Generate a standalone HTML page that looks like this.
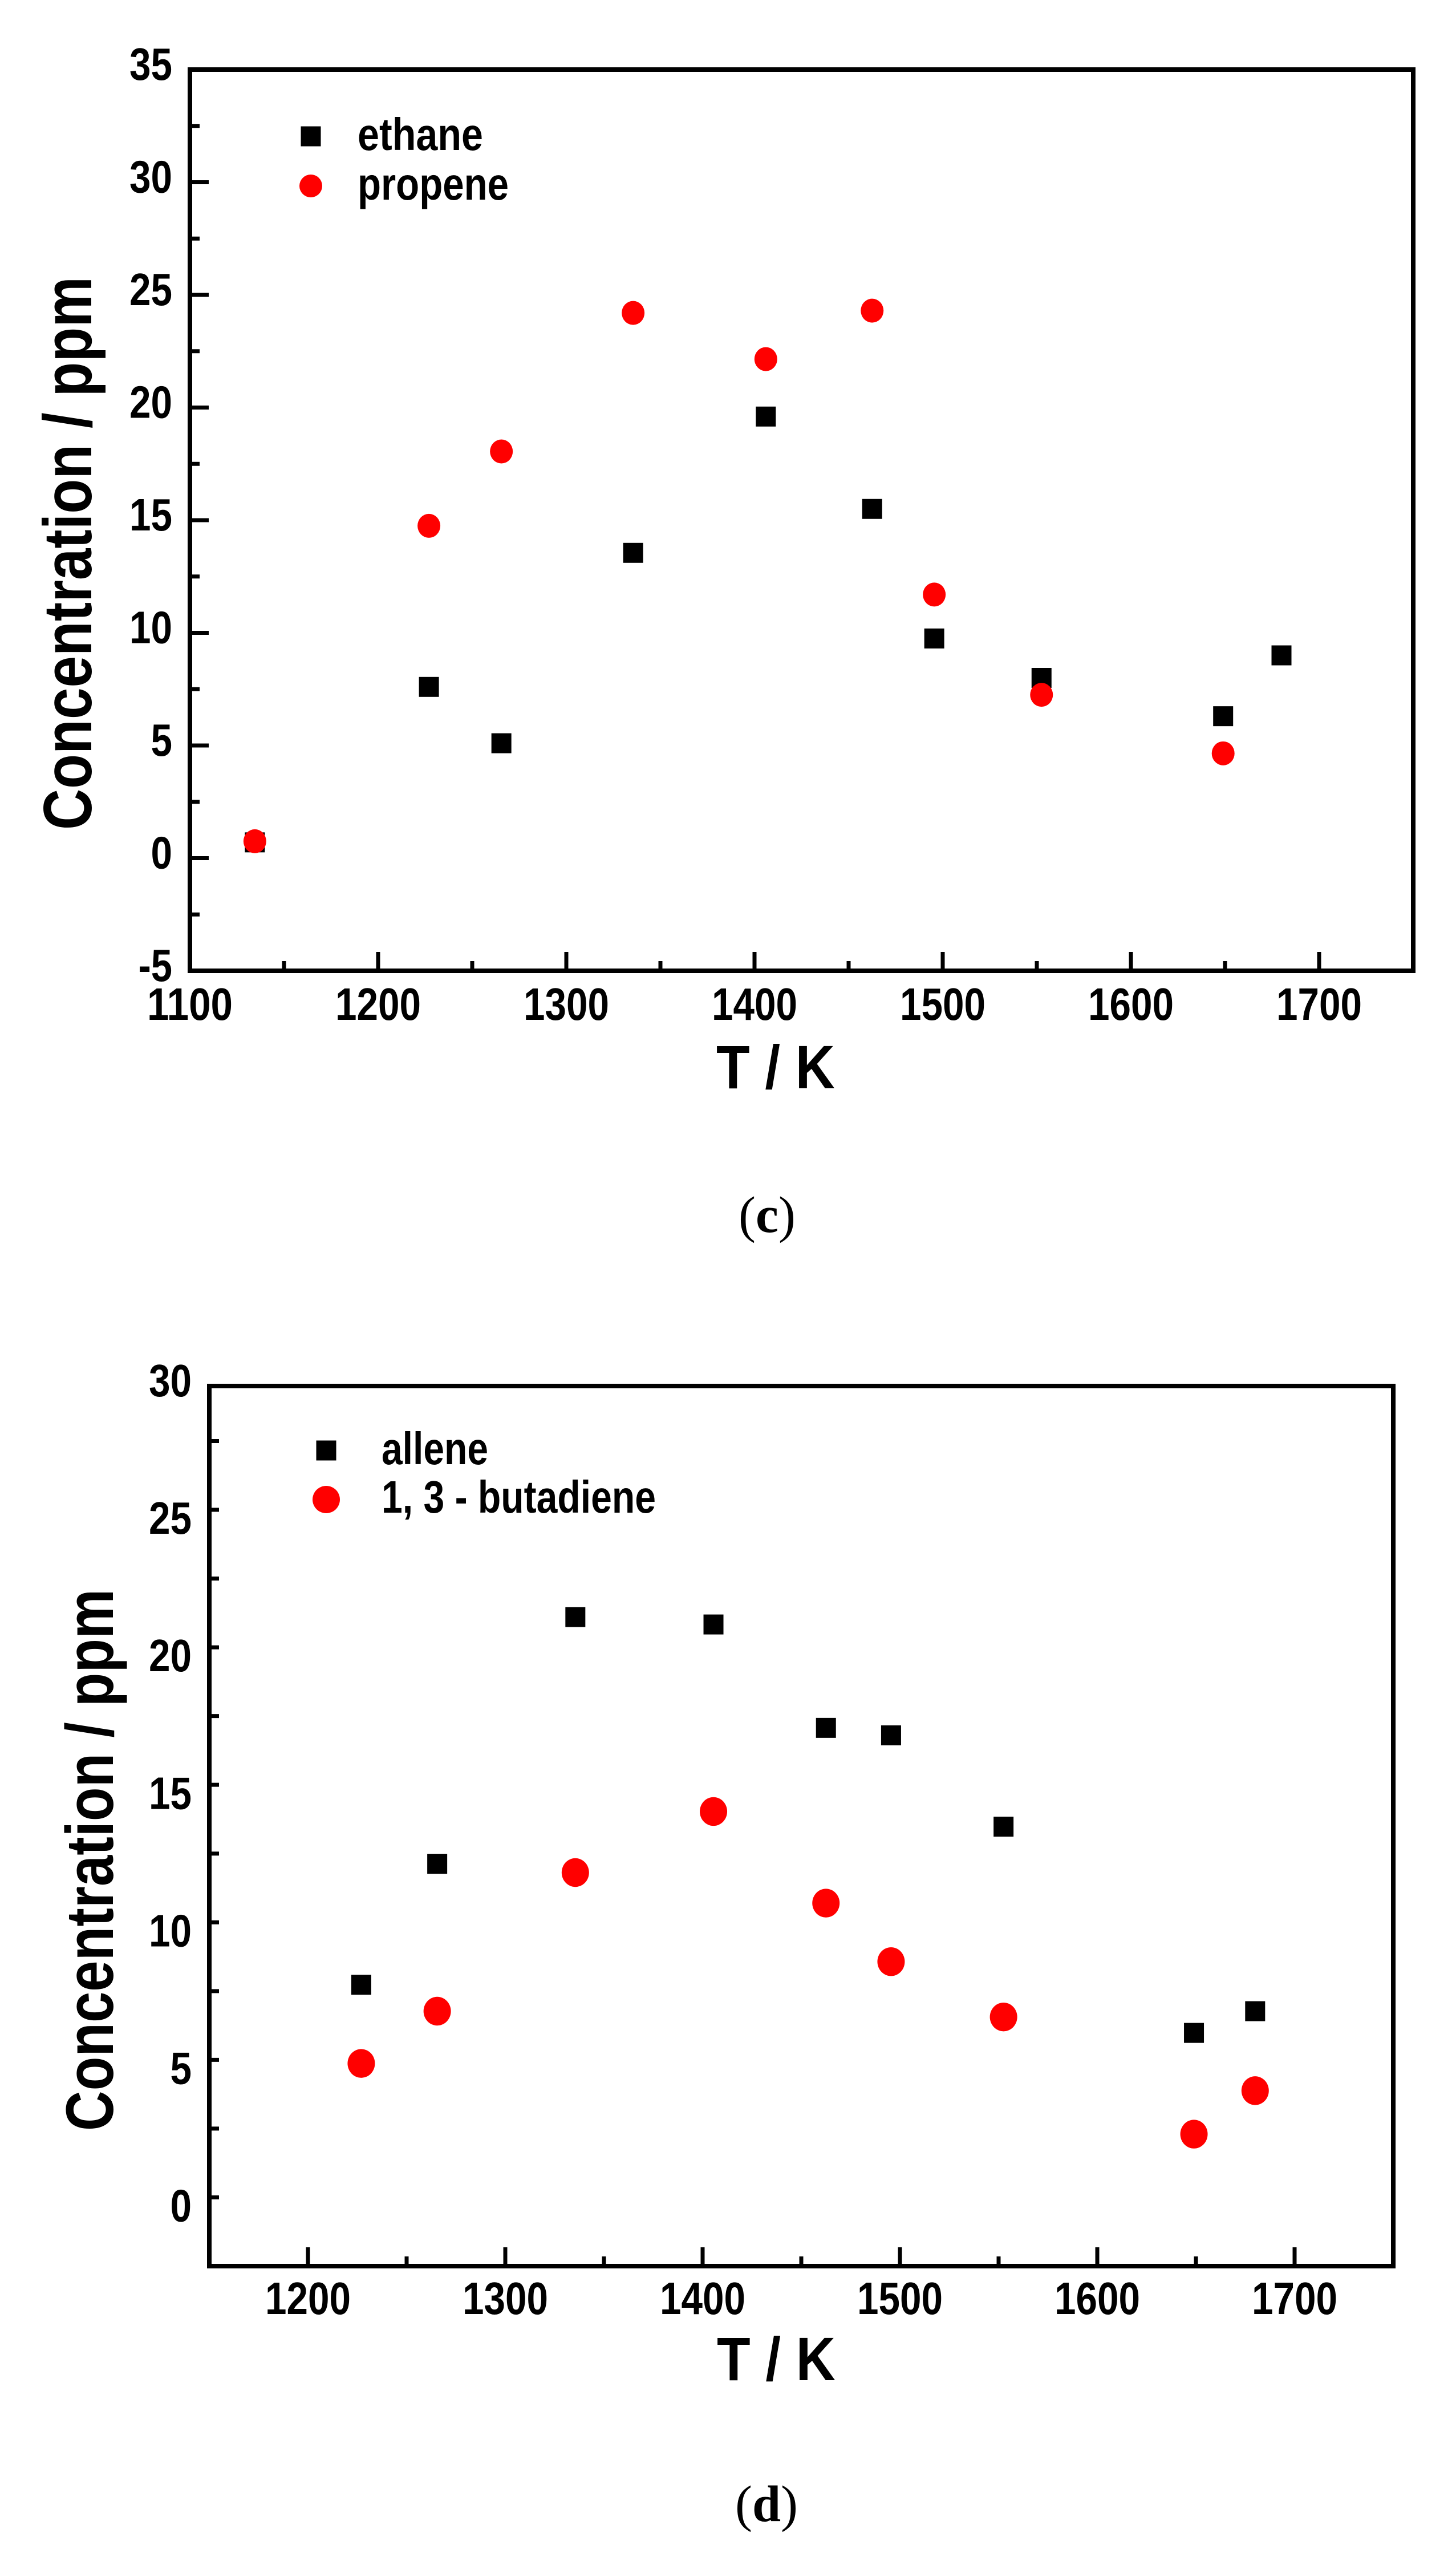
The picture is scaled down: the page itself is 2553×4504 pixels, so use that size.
<!DOCTYPE html>
<html><head><meta charset="utf-8"><style>
html,body{margin:0;padding:0;background:#fff;}
svg{display:block;}
text{font-family:"Liberation Sans",Arial,sans-serif;font-weight:bold;fill:#000;}
text.cap{font-family:"Liberation Serif","Times New Roman",serif;font-weight:normal;}
</style></head><body>
<svg id="fig" xmlns="http://www.w3.org/2000/svg" width="2553" height="4504" viewBox="0 0 2553 4504">
<rect width="2553" height="4504" fill="#fff"/>
<g id="chartC"></g>
<g id="chartD"></g>
<text class="cap" x="1345" y="2160" font-size="90" text-anchor="middle">(<tspan font-weight="bold">c</tspan>)</text>
<text class="cap" x="1344" y="4420" font-size="90" text-anchor="middle">(<tspan font-weight="bold">d</tspan>)</text>
</svg>
<script>
// ---- Chart (c) data ----
const cTemps = [1134.5, 1227, 1265.5, 1335.5, 1406, 1462.5, 1495.5, 1552.5, 1649, 1680];
const cEthane = [0.7, 7.6, 5.1, 13.55, 19.6, 15.5, 9.75, 8.0, 6.3, 9.0];
const cPropeneT = [1134.5, 1227, 1265.5, 1335.5, 1406, 1462.5, 1495.5, 1552.5, 1649];
const cPropene = [0.75, 14.75, 18.05, 24.2, 22.15, 24.3, 11.7, 7.25, 4.65];
const cXTicks = [1100, 1200, 1300, 1400, 1500, 1600, 1700];
const cYTicks = [-5, 0, 5, 10, 15, 20, 25, 30, 35];
// ---- Chart (d) data ----
const dTemps = [1227, 1265.5, 1335.5, 1405.5, 1462.5, 1495.5, 1552.5, 1649, 1680];
const dAllene = [8.23, 12.63, 21.6, 21.33, 17.57, 17.3, 13.98, 6.48, 7.27];
const dButadiene = [5.37, 7.27, 12.31, 14.53, 11.2, 9.07, 7.06, 2.8, 4.38];
const dXTicks = [1200, 1300, 1400, 1500, 1600, 1700];
const dYTicks = [0, 5, 10, 15, 20, 25, 30];

const NS = "http://www.w3.org/2000/svg";
function mk(parent, tag, attrs){
  const e = document.createElementNS(NS, tag);
  for (const k in attrs) e.setAttribute(k, attrs[k]);
  parent.appendChild(e);
  return e;
}
function labelWidth(s){ let w=0; for (const ch of s) w += (ch==='-') ? 22 : 37.5; return w; }

function drawChart(g, cfg){
  const sx = v => cfg.x0 + (v - cfg.xmin) / (cfg.xmax - cfg.xmin) * (cfg.x1 - cfg.x0);
  const sy = v => cfg.y1 - (v - cfg.ymin) / (cfg.ymax - cfg.ymin) * (cfg.y1 - cfg.y0);
  const fr = mk(g, 'rect', {x:cfg.x0, y:cfg.y0, width:cfg.x1-cfg.x0, height:cfg.y1-cfg.y0, fill:'none', stroke:'#000', 'stroke-width':8});
  
  
  for (let v = cfg.xmin; v <= cfg.xmax + 0.01; v += 50){
    const major = Math.abs(v/100 - Math.round(v/100)) < 1e-6;
    const t = mk(g, 'line', {x1:sx(v), x2:sx(v), y1:cfg.y1, y2:cfg.y1 - (major?33:17), stroke:'#000', 'stroke-width':7});
    
    
  }
  for (let v = cfg.ymin; v <= cfg.ymax + 0.01; v += 2.5){
    if (v === cfg.ymin && cfg.ymin % 5 !== 0) continue;
    const major = Math.abs(v/5 - Math.round(v/5)) < 1e-6;
    const t = mk(g, 'line', {x1:cfg.x0, x2:cfg.x0 + (major?33:17), y1:sy(v), y2:sy(v), stroke:'#000', 'stroke-width':7});
    
    
  }
  cfg.xTicks.forEach(v => {
    const s = String(v);
    const t = mk(g, 'text', {x:sx(v), y:cfg.xLabelY, 'font-size':80, 'text-anchor':'middle', textLength:labelWidth(s), lengthAdjust:'spacingAndGlyphs'});
    t.textContent = s;
    
    
  });
  cfg.yTicks.forEach(v => {
    const s = String(v);
    const t = mk(g, 'text', {x:cfg.yLabelX, y:sy(v) + 18, 'font-size':80, 'text-anchor':'end', textLength:labelWidth(s), lengthAdjust:'spacingAndGlyphs'});
    t.textContent = s;
    
    
  });
  const xt = mk(g, 'text', {x:cfg.xTitleX, y:cfg.xTitleY, 'font-size':108, 'text-anchor':'middle', textLength:208, lengthAdjust:'spacingAndGlyphs'});
  xt.textContent = 'T / K';
  
  
  const yt = mk(g, 'text', {x:0, y:0, 'font-size':cfg.yTitleSize, 'text-anchor':'middle', textLength:cfg.yTitleLen, lengthAdjust:'spacingAndGlyphs', transform:`translate(${cfg.yTitleX},${cfg.yTitleY}) rotate(-90)`});
  yt.textContent = 'Concentration / ppm';
  
  
  cfg.squareX.forEach((xv, i) => {
    const h = cfg.sq/2;
    const r = mk(g, 'rect', {x:sx(xv)-h, y:sy(cfg.squareY[i])-h, width:cfg.sq, height:cfg.sq, fill:'#000'});
    
    
  });
  cfg.circX.forEach((xv, i) => {
    const c = mk(g, 'ellipse', {cx:sx(xv), cy:sy(cfg.circY[i]), rx:cfg.cr, ry:cfg.cr*1.05, fill:'#ff0000'});
    
    
  });
  const lg = mk(g, 'g', {});
  
  
  const ls = mk(lg, 'rect', {x:cfg.legX - cfg.sq/2, y:cfg.legY1 - cfg.sq/2, width:cfg.sq, height:cfg.sq, fill:'#000'});
  
  
  const lc = mk(lg, 'circle', {cx:cfg.legX, cy:cfg.legY2, r:cfg.cr, fill:'#ff0000'});
  
  
  const l1 = mk(lg, 'text', {x:cfg.legTX, y:cfg.legB1, 'font-size':80, textLength:cfg.legW1, lengthAdjust:'spacingAndGlyphs'});
  l1.textContent = cfg.sqLabel;
  
  
  const l2 = mk(lg, 'text', {x:cfg.legTX, y:cfg.legB2, 'font-size':80, textLength:cfg.legW2, lengthAdjust:'spacingAndGlyphs'});
  l2.textContent = cfg.circLabel;
  
  
}

drawChart(document.getElementById('chartC'), {
  x0:333, x1:2478, y0:122, y1:1702, xmin:1100, xmax:1750, ymin:-5, ymax:35,
  xTicks:cXTicks, yTicks:cYTicks, xLabelY:1788, yLabelX:302,
  xTitleX:1360, xTitleY:1908, yTitleX:160, yTitleY:970, yTitleSize:120, yTitleLen:970,
  squareX:cTemps, squareY:cEthane, circX:cPropeneT, circY:cPropene,
  sq:35, cr:20, sqName:'ethane', circName:'propene', sqLabel:'ethane', circLabel:'propene',
  legX:545, legY1:239, legY2:326, legTX:627, legB1:263, legB2:350, legW1:220, legW2:265
});
drawChart(document.getElementById('chartD'), {
  x0:367, x1:2443, y0:2430, y1:3973, xmin:1150, xmax:1750, ymin:-2, ymax:30,
  xTicks:dXTicks, yTicks:dYTicks, xLabelY:4057, yLabelX:336,
  xTitleX:1361, xTitleY:4173, yTitleX:198, yTitleY:3261, yTitleSize:118, yTitleLen:950,
  squareX:dTemps, squareY:dAllene, circX:dTemps, circY:dButadiene,
  sq:35, cr:24, sqName:'allene', circName:'butadiene', sqLabel:'allene', circLabel:'1, 3 - butadiene',
  legX:572, legY1:2543, legY2:2629, legTX:669, legB1:2567, legB2:2652, legW1:187, legW2:481
});
</script>
</body></html>
